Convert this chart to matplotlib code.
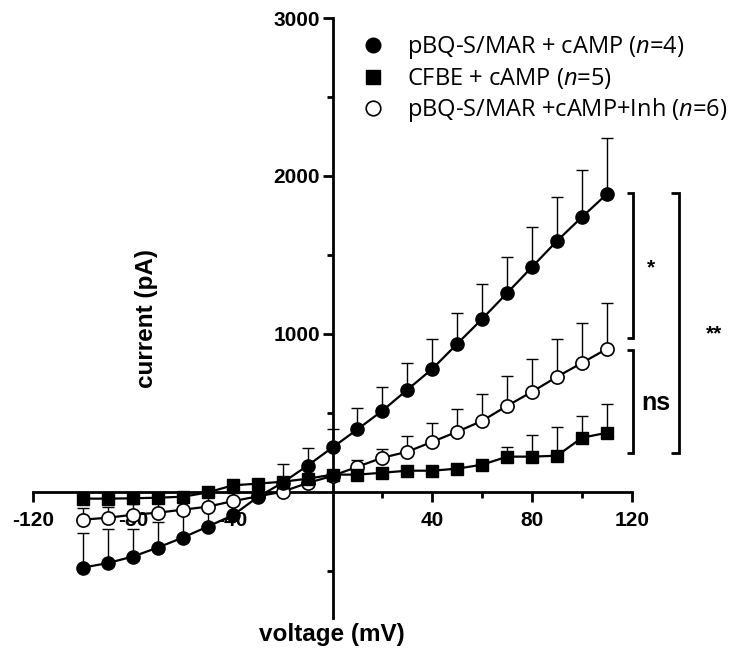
import matplotlib
matplotlib.use("Agg")
import matplotlib.pyplot as plt
from matplotlib.lines import Line2D

# ---------------- data ----------------
voltage = [-100, -90, -80, -70, -60, -50, -40, -30, -20, -10, 0,
           10, 20, 30, 40, 50, 60, 70, 80, 90, 100, 110]

pbq_camp = [-481, -452, -411, -354, -291, -221, -150, -35, 57, 165, 280,
            395, 513, 646, 778, 937, 1095, 1259, 1424, 1589, 1740, 1886]
pbq_camp_err = [222, 216, 177, 164, 150, 120, 90, 70, 120, 113, 114,
                135, 152, 170, 190, 196, 221, 228, 253, 278, 300, 354]

cfbe_camp = [-44, -44, -42, -38, -32, -5, 40, 51, 63, 82, 108,
             108, 120, 133, 133, 146, 171, 222, 222, 228, 342, 373]
cfbe_camp_err = [20, 20, 20, 20, 20, 20, 20, 20, 20, 20, 20,
                 20, 20, 20, 20, 20, 25, 63, 138, 183, 139, 184]

pbq_inh = [-177, -165, -146, -133, -114, -95, -60, -30, 0, 55, 100,
           158, 215, 253, 316, 380, 449, 544, 633, 728, 816, 905]
pbq_inh_err = [75, 70, 70, 70, 65, 60, 50, 40, 40, 40, 40,
               40, 55, 100, 121, 145, 171, 190, 209, 240, 254, 291]

labels = ["pBQ-S/MAR + cAMP ($\\mathit{n}$=4)",
          "CFBE + cAMP ($\\mathit{n}$=5)",
          "pBQ-S/MAR +cAMP+Inh ($\\mathit{n}$=6)"]

x_major = [-120, -80, -40, 40, 80, 120]
x_minor = [-100, -60, -20, 20, 60, 100]
y_major = [1000, 2000, 3000]
y_minor = [-500, 500, 1500, 2500]

plt.rcParams["mathtext.fontset"] = "custom"
plt.rcParams["mathtext.rm"] = "Open Sans"
plt.rcParams["mathtext.it"] = "Open Sans:italic"
plt.rcParams["mathtext.bf"] = "Open Sans:bold"

# ---------------- figure ----------------
W, H = 735, 654
fig = plt.figure(figsize=(W / 100, H / 100), dpi=100)
ax = fig.add_axes([33 / W, 1 - 618 / H, 599 / W, 600 / H])
ax.set_xlim(-120, 120)
ax.set_ylim(-800, 3000)

bold = dict(family="Liberation Sans", weight="bold")

series = [
    (pbq_inh, pbq_inh_err, dict(marker="o", mfc="white", mec="black", ms=9.5, mew=1.2)),
    (cfbe_camp, cfbe_camp_err, dict(marker="s", mfc="black", mec="black", ms=9)),
    (pbq_camp, pbq_camp_err, dict(marker="o", mfc="black", mec="black", ms=9.5)),
]
for vals, err, style in series:
    lower = [0] * len(err)
    ax.errorbar(voltage, vals, yerr=[lower, err], fmt="none", ecolor="black",
                elinewidth=1.0, capsize=4.5, capthick=1.0, zorder=2)
    ax.plot(voltage, vals, color="black", lw=1.6, zorder=3, **style)

# spines through origin
for s in ["top", "right"]:
    ax.spines[s].set_visible(False)
ax.spines["left"].set_position(("data", 0))
ax.spines["bottom"].set_position(("data", 0))
for s in ["left", "bottom"]:
    ax.spines[s].set_linewidth(2.0)

ax.set_xticks(x_major)
ax.set_xticks(x_minor, minor=True)
ax.set_yticks(y_major)
ax.set_yticks(y_minor, minor=True)
ax.set_xticklabels([str(v) for v in x_major], fontsize=15, **bold)
ax.set_yticklabels([str(v) for v in y_major], fontsize=15, **bold)
ax.tick_params(axis="both", which="major", length=7, width=2.0, pad=2)
ax.tick_params(axis="both", which="minor", length=4, width=2.0)
ax.tick_params(axis="x", which="major", pad=7)

# axis labels
fig.text(147 / W, 1 - 318 / H, "current (pA)", rotation=90, ha="center",
         va="center", fontsize=17.5, **bold)
fig.text(332 / W, 1 - 635 / H, "voltage (mV)", ha="center", va="center",
         fontsize=17.5, **bold)

# legend
handles = [
    Line2D([], [], marker="o", ls="none", mfc="black", mec="black", ms=10.5),
    Line2D([], [], marker="s", ls="none", mfc="black", mec="black", ms=9.5),
    Line2D([], [], marker="o", ls="none", mfc="white", mec="black", ms=10.5, mew=1.2),
]
leg = fig.legend(handles, labels, loc="upper left",
                 bbox_to_anchor=(362 / W, 1 - 34 / H),
                 frameon=False, handlelength=0.95, handletextpad=0.95,
                 labelspacing=0.21, borderpad=0, borderaxespad=0,
                 prop=dict(family="Open Sans", size=17))

# significance brackets (data coordinates, outside axes)
def bracket(x, xl, y0, y1):
    ax.plot([xl, x, x, xl], [y1, y1, y0, y0], color="black", lw=2.0,
            clip_on=False, solid_capstyle="butt", solid_joinstyle="miter")

bracket(120.6, 117.8, 975, 1892)
bracket(120.6, 117.8, 247, 899)
bracket(139.0, 135.8, 247, 1892)
ax.text(127.8, 1420, "*", ha="center", va="center", fontsize=15, **bold)
ax.text(129.6, 563, "ns", ha="center", va="center", fontsize=18, **bold)
ax.text(153, 1000, "**", ha="center", va="center", fontsize=15, **bold)

fig.savefig("out.png", dpi=100)
